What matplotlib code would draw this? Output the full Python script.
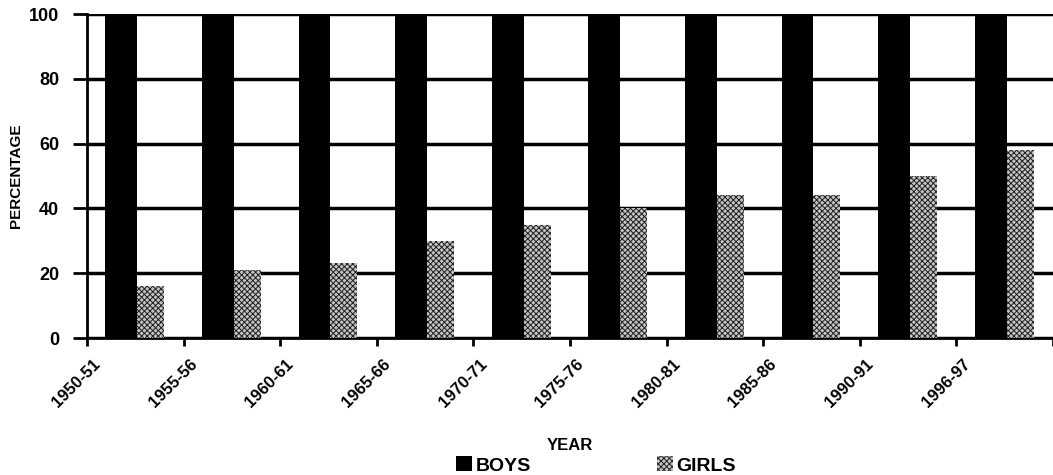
import matplotlib.pyplot as plt
import numpy as np

YEARS = ["1950-51", "1955-56", "1960-61", "1965-66", "1970-71",
         "1975-76", "1980-81", "1985-86", "1990-91", "1996-97"]
BOYS = [100, 100, 100, 100, 100, 100, 100, 100, 100, 100]
GIRLS = [16, 21, 23, 30, 35, 40, 44, 44, 50, 58]

plt.rcParams["font.family"] = ["Liberation Sans", "DejaVu Sans"]
plt.rcParams["font.weight"] = "bold"
plt.rcParams["hatch.linewidth"] = 0.7
plt.rcParams["hatch.color"] = "#202020"

fig = plt.figure(figsize=(10.53, 4.75), dpi=100)
ax = fig.add_axes([0.0826, 0.2884, 0.9174, 0.6821])

x = np.arange(len(YEARS))
ax.bar(x + 0.19, BOYS, 0.33, align="edge", color="black", label="BOYS", zorder=3)
ax.bar(x + 0.52, GIRLS, 0.28, align="edge", facecolor="#c4c4c4", hatch="xxxxxx",
       edgecolor="#202020", linewidth=0, label="GIRLS", zorder=3)

ax.set_xlim(0, len(YEARS))
ax.set_ylim(0, 100)
ax.set_yticks(np.arange(0, 101, 20))
ax.yaxis.grid(True, color="black", linewidth=2.5, zorder=1)
ax.set_axisbelow(True)

# tick marks sit between groups, labels near the left of each group
ax.set_xticks(np.arange(len(YEARS) + 1))
ax.set_xticklabels([])
ax.set_xticks(x + 0.17, labels=YEARS, minor=True)
ax.tick_params(axis="x", which="major", length=6, width=2, direction="out")
ax.tick_params(axis="x", which="minor", length=0, pad=13, labelsize=12)
for lbl in ax.get_xticklabels(minor=True):
    lbl.set_rotation(45)
    lbl.set_ha("right")
    lbl.set_fontweight("bold")

ax.tick_params(axis="y", length=10, width=2, direction="out", pad=10, labelsize=13)
for lbl in ax.get_yticklabels():
    lbl.set_fontweight("bold")

for s in ["top", "right"]:
    ax.spines[s].set_visible(False)
ax.spines["left"].set_linewidth(2)
ax.spines["bottom"].set_linewidth(2)

ax.set_ylabel("PERCENTAGE", fontsize=11, fontweight="bold")
ax.yaxis.set_label_coords(-0.066, 0.5)
ax.set_xlabel("YEAR", fontsize=12, fontweight="bold")
ax.xaxis.set_label_coords(0.5, -0.31)

fig.legend(loc="center", bbox_to_anchor=(0.566, 0.02), ncol=2, frameon=False,
           handlelength=0.8, handleheight=0.8, handletextpad=0.2,
           columnspacing=6.5, prop={"weight": "bold", "size": 14})

fig.savefig("out.png", dpi=100)
